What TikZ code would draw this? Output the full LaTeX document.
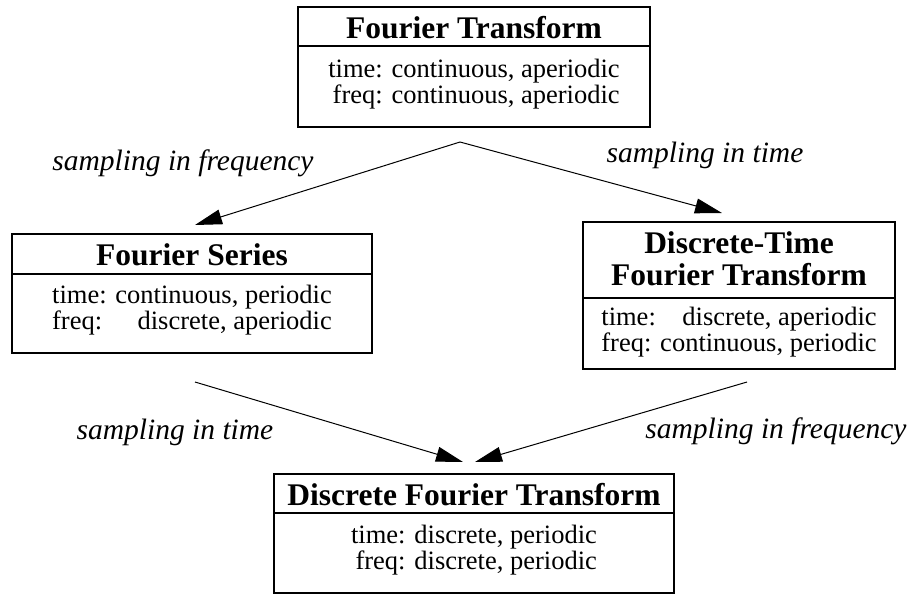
\documentclass[tikz,border=0pt]{standalone}
\usepackage{fontspec}
\setmainfont{Liberation Serif}
\usetikzlibrary{arrows.meta}
\newsavebox\fullline
\begin{document}
\begin{tikzpicture}[x=1pt,y=-1pt,
  box/.style={draw,line width=2pt,inner sep=0pt,rectangle},
  divline/.style={line width=1.6pt},
  ttl/.style={font=\fontsize{31.5}{32}\selectfont\bfseries,inner sep=0pt,anchor=base,align=center},
  bodytxt/.style={font=\fontsize{26.5}{25.5}\selectfont,inner sep=0pt,anchor=base},
  lbl/.style={font=\fontsize{29.5}{30}\selectfont\itshape,inner sep=0pt,anchor=base},
  conn/.style={line width=1pt,-{Triangle[length=27pt,width=15pt]}}]
\fill[white] (0,0) rectangle (919,598);
\useasboundingbox (0,0) rectangle (919,598);
% boxes
\node[box,minimum width=352pt,minimum height=120pt] (ft) at (474,67) {};
\node[box,minimum width=360pt,minimum height=119pt] (fs) at (192,293.5) {};
\node[box,minimum width=312pt,minimum height=147pt] (dtft) at (739,295.5) {};
\node[box,minimum width=400pt,minimum height=119pt] (dft) at (474,533.5) {};
% dividers
\draw[divline] (ft.west |- 0,46) -- (ft.east |- 0,46);
\draw[divline] (fs.west |- 0,274) -- (fs.east |- 0,274);
\draw[divline] (dtft.west |- 0,298) -- (dtft.east |- 0,298);
\draw[divline] (dft.west |- 0,513) -- (dft.east |- 0,513);
% titles
\node[ttl] (ftT) at (474,38) {Fourier Transform};
\node[ttl] (fsT) at (192,265) {Fourier Series};
\node[ttl] (dtftT) at (739,253) {\begin{tabular}[t]{@{}c@{}}Discrete-Time\\Fourier Transform\end{tabular}};
\node[ttl] (dftT) at (474,505) {Discrete Fourier Transform};
% bodies
\node[bodytxt] (ftB) at (474,77) {\begin{tabular}[t]{@{}r@{}}time: continuous, aperiodic\\freq: continuous, aperiodic\end{tabular}};
\node[bodytxt] (fsB) at (192,303) {\sbox\fullline{time: continuous, periodic}\begin{tabular}[t]{@{}l@{}}time: continuous, periodic\\\makebox[\wd\fullline]{freq:\hfill discrete, aperiodic}\end{tabular}};
\node[bodytxt] (dtftB) at (739,325) {\sbox\fullline{freq: continuous, periodic}\begin{tabular}[t]{@{}l@{}}\makebox[\wd\fullline]{time:\hfill discrete, aperiodic}\\freq: continuous, periodic\end{tabular}};
\node[bodytxt] (dftB) at (474,543) {\begin{tabular}[t]{@{}r@{}}time: discrete, periodic\\freq: discrete, periodic\end{tabular}};
% connector end points
\coordinate (apex) at (460,142);
\coordinate (fsin) at (195,225);
\coordinate (dtftin) at (722,213);
\coordinate (fsout) at (195,382);
\coordinate (dtftout) at (747,382);
\coordinate (dftinL) at (463,462);
\coordinate (dftinR) at (475,462);
\draw[conn] (apex) -- (fsin);
\draw[conn] (apex) -- (dtftin);
\draw[conn] (fsout) -- (dftinL);
\draw[conn] (dtftout) -- (dftinR);
% labels
\node[lbl] (l1) at (183,170) {sampling in frequency};
\node[lbl] (l2) at (705,162) {sampling in time};
\node[lbl] (l3) at (175,439) {sampling in time};
\node[lbl] (l4) at (776,438) {sampling in frequency};
\end{tikzpicture}
\end{document}
